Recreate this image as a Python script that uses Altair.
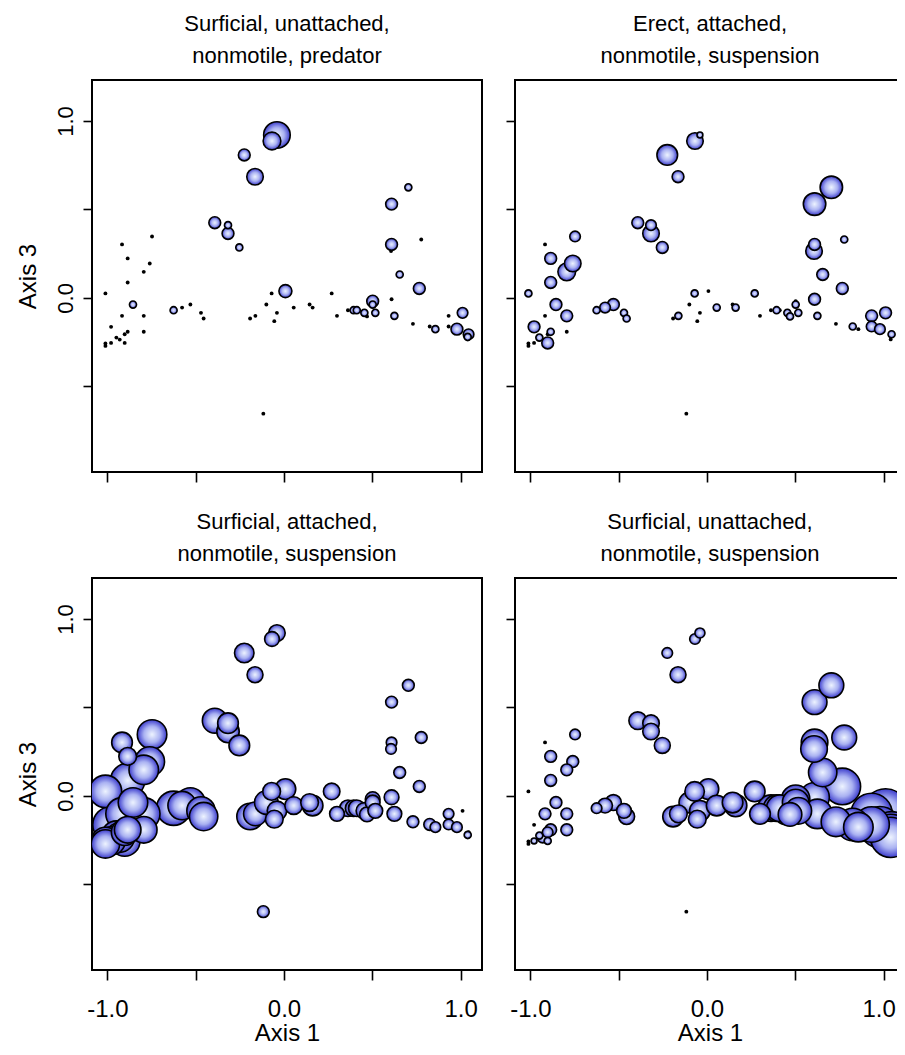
import altair as alt
import pandas as pd

# Site scores (Axis 1, Axis 3)
axis1 = [-1.011, -0.917, -0.885, -0.747, -0.760, -0.794, -0.885, -0.855, -0.917, -0.794,
         -0.794, -0.979, -0.949, -0.930, -0.902, -0.902, -0.885, -0.979, -1.011, -1.011,
         -0.625, -0.577, -0.530, -0.470, -0.455, -0.392, -0.317, -0.317, -0.253, -0.225,
         -0.164, -0.040, -0.068, -0.192, -0.162, -0.100, -0.070, -0.040, -0.055, -0.117,
         0.008, 0.055, 0.145, 0.162, 0.270, 0.300, 0.362, 0.394, 0.412, 0.455,
         0.470, 0.502, 0.502, 0.517, 0.609, 0.704, 0.609, 0.606, 0.777, 0.655,
         0.609, 0.625, 0.766, 0.730, 0.825, 0.857, 0.932, 1.011, 0.932, 0.979,
         1.045, 1.040, 1.040]
axis3 = [0.025, 0.302, 0.223, 0.347, 0.194, 0.147, 0.087, -0.038, -0.102, -0.102,
         -0.192, -0.164, -0.225, -0.236, -0.255, -0.206, -0.192, -0.255, -0.258, -0.272,
         -0.070, -0.055, -0.038, -0.085, -0.117, 0.425, 0.411, 0.364, 0.285, 0.808,
         0.685, 0.921, 0.887, -0.117, -0.102, -0.038, 0.025, -0.085, -0.132, -0.655,
         0.038, -0.055, -0.038, -0.055, 0.025, -0.102, -0.070, -0.070, -0.070, -0.085,
         -0.105, -0.019, -0.038, -0.085, 0.530, 0.625, 0.302, 0.265, 0.330, 0.132,
         -0.008, -0.102, 0.053, -0.147, -0.162, -0.177, -0.102, -0.085, -0.162, -0.177,
         -0.206, -0.221, -0.235]

# Trait abundances per site (bubble radius proportional to value)
surf_unatt_pred = [0, 0, 0, 0, 0, 0, 0, 12, 0, 0,
                   0, 0, 0, 0, 0, 0, 0, 0, 0, 0,
                   12, 0, 0, 0, 0, 20, 12, 20, 12, 20,
                   28, 45, 30, 0, 0, 0, 0, 0, 0, 0,
                   22, 0, 0, 0, 0, 0, 0, 12, 12, 12,
                   0, 20, 12, 12, 20, 12, 20, 0, 0, 12,
                   0, 12, 20, 0, 0, 12, 0, 18, 0, 20,
                   18, 12, 0]
erect_att_susp = [12, 0, 20, 18, 28, 30, 20, 20, 0, 20,
                  0, 20, 12, 0, 20, 0, 12, 0, 0, 0,
                  12, 18, 20, 12, 12, 20, 18, 28, 20, 35,
                  20, 10, 28, 0, 12, 0, 12, 0, 0, 0,
                  0, 12, 0, 12, 12, 0, 0, 12, 0, 12,
                  12, 0, 12, 12, 38, 38, 20, 28, 12, 20,
                  20, 12, 20, 0, 12, 0, 20, 20, 18, 18,
                  12, 0, 0]
surf_att_susp = [55, 35, 30, 50, 50, 50, 58, 50, 55, 55,
                 45, 62, 50, 50, 52, 45, 45, 48, 48, 48,
                 58, 48, 50, 48, 48, 42, 35, 38, 35, 33,
                 27, 28, 25, 45, 40, 40, 30, 33, 30, 20,
                 35, 30, 30, 35, 28, 25, 28, 28, 28, 28,
                 25, 25, 25, 25, 20, 20, 18, 18, 20, 20,
                 25, 25, 20, 20, 20, 18, 18, 0, 18, 18,
                 0, 12, 0]
surf_unatt_susp = [0, 0, 20, 18, 20, 20, 20, 20, 20, 20,
                   20, 0, 12, 18, 12, 18, 20, 10, 0, 0,
                   18, 25, 27, 25, 27, 30, 28, 28, 27, 18,
                   27, 17, 18, 35, 30, 35, 33, 35, 30, 0,
                   35, 35, 35, 38, 35, 35, 45, 45, 45, 48,
                   40, 48, 45, 45, 42, 42, 45, 45, 42, 48,
                   50, 50, 62, 50, 55, 50, 70, 75, 60, 70,
                   70, 70, 68]

panel_titles = [["Surficial, unattached,", "nonmotile, predator"],
                ["Erect, attached,", "nonmotile, suspension"],
                ["Surficial, attached,", "nonmotile, suspension"],
                ["Surficial, unattached,", "nonmotile, suspension"]]
panel_values = [surf_unatt_pred, erect_att_susp, surf_att_susp, surf_unatt_susp]

x_ticks = [-1.0, -0.5, 0.0, 0.5, 1.0]
y_ticks = [-0.5, 0.0, 0.5, 1.0]

FONT = "Liberation Sans, Arial, sans-serif"
FS_TITLE = 22
FS_XLAB = 24
FS_YLAB = 22
FS_AXT = 24

rows = []
for p, vals in enumerate(panel_values):
    for xi, yi, v in zip(axis1, axis3, vals):
        rows.append({"panel": p, "a1": xi, "a3": yi, "v": v})
df = pd.DataFrame(rows)

gradient = {
    "gradient": "radial",
    "x1": 0.5, "y1": 0.5, "r1": 0,
    "x2": 0.5, "y2": 0.5, "r2": 0.5,
    "stops": [
        {"offset": 0.0, "color": "#eef4ff"},
        {"offset": 0.55, "color": "#aab2f2"},
        {"offset": 1.0, "color": "#3b3bcc"},
    ],
}

label_expr = ("datum.value == 1 ? '1.0' : datum.value == 0 ? '0.0' : "
              "datum.value == -1 ? '-1.0' : ''")


def panel(p):
    r, c = divmod(p, 2)
    bottom = r == 1
    left = c == 0
    xscale = alt.Scale(domain=[-1.087, 1.121], nice=False, zero=False)
    yscale = alt.Scale(domain=[-0.985, 1.232], nice=False, zero=False)
    xaxis_kw = dict(values=x_ticks, domain=False, tickSize=10, tickWidth=1.6,
                    tickColor="black", grid=False)
    if bottom:
        xaxis_kw.update(labels=True, labelExpr=label_expr, labelFont=FONT,
                        labelFontSize=FS_XLAB, labelColor="black",
                        labelBaseline="alphabetic", labelPadding=36,
                        labelAlign="center",
                        titleFont=FONT, titleFontSize=FS_AXT, titleColor="black",
                        titleFontWeight="normal", titleBaseline="alphabetic",
                        titleX=195, titleY=70, titleAlign="center")
        if not left:
            # keep the last label inside the page edge
            xaxis_kw.update(labelOffset={"condition": {"test": "datum.value == 1",
                                                       "value": -5},
                                         "value": 0})
        xtitle = "Axis 1"
    else:
        xaxis_kw.update(labels=False)
        xtitle = None
    yaxis_kw = dict(values=y_ticks, domain=False, tickSize=9, tickWidth=1.6,
                    tickColor="black", grid=False)
    if left:
        yaxis_kw.update(labels=True, labelExpr=label_expr, labelFont=FONT,
                        labelFontSize=FS_YLAB, labelColor="black", labelAngle=270,
                        labelAlign="center", labelBaseline="alphabetic",
                        labelPadding=11,
                        titleFont=FONT, titleFontSize=FS_AXT, titleColor="black",
                        titleFontWeight="normal", titleBaseline="alphabetic",
                        titleAngle=270, titleAlign="center",
                        titleX=-57, titleY=196)
        ytitle = "Axis 3"
    else:
        yaxis_kw.update(labels=False)
        ytitle = None

    base = alt.Chart(df).transform_filter(alt.datum.panel == p)
    X = alt.X("a1:Q", scale=xscale, axis=alt.Axis(**xaxis_kw), title=xtitle)
    Y = alt.Y("a3:Q", scale=yscale, axis=alt.Axis(**yaxis_kw), title=ytitle)

    dots = base.transform_filter(alt.datum.v == 0).mark_circle(
        color="black", size=15, opacity=1, clip=True
    ).encode(x=X, y=Y)

    bubbles = base.transform_filter(alt.datum.v > 0).mark_circle(
        fill=gradient, stroke="black", strokeWidth=1.6, opacity=1,
        fillOpacity=1, strokeOpacity=1, clip=True
    ).encode(
        x=X, y=Y,
        size=alt.Size("v:Q", scale=alt.Scale(type="pow", exponent=2,
                                             domain=[0, 75], range=[0, 1963]),
                      legend=None),
        order=alt.Order("v:Q", sort="descending"),
    )

    return alt.layer(dots, bubbles).properties(
        width=390, height=392,
        title=alt.TitleParams(text=panel_titles[p], font=FONT, fontSize=FS_TITLE,
                              fontWeight="normal", color="black",
                              lineHeight=32, baseline="bottom",
                              anchor="middle", offset=-10),
    )


chart = alt.concat(
    panel(0), panel(1), panel(2), panel(3),
    columns=2, spacing={"row": 106, "column": 33}, bounds="flush",
).properties(
    autosize=alt.AutoSizeParams(type="none"),
    padding={"left": 84, "top": 72, "right": 805, "bottom": 967},
    background="white",
).configure_view(stroke="black", strokeWidth=2)

chart.save("out.html", embed_options={"renderer": "svg", "actions": False})
